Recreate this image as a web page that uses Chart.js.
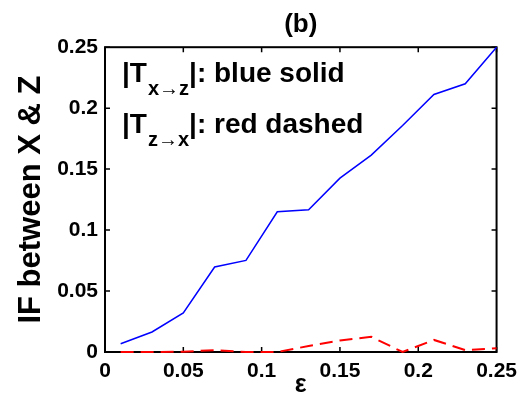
<!DOCTYPE html>
<html>
<head>
<meta charset="utf-8">
<script src="https://cdn.jsdelivr.net/npm/chart.js@4/dist/chart.umd.min.js"></script>
<style>
  body { margin: 0; background: #fff; }
  canvas { display: block; }
</style>
</head>
<body>
<canvas id="myChart" width="524" height="408"></canvas>
<script>
// --- Data ---
const epsilon = [0.01, 0.03, 0.05, 0.07, 0.09, 0.11, 0.13, 0.15, 0.17, 0.19, 0.21, 0.23, 0.25];
const T_xz = [0.0068, 0.0164, 0.032, 0.0697, 0.0751, 0.115, 0.1167, 0.1426, 0.1615, 0.1858, 0.2112, 0.22, 0.25];
const T_zx = [0.0, 0.0, 0.0003, 0.0015, 0.0, 0.0, 0.0049, 0.0095, 0.0125, 0.0, 0.0099, 0.0016, 0.003];
const xTicks = [0, 0.05, 0.1, 0.15, 0.2, 0.25];
const yTicks = [0, 0.05, 0.1, 0.15, 0.2, 0.25];

const FONT = "'Liberation Sans', Arial, sans-serif";

function toPoints(xs, ys) {
  return xs.map((x, i) => ({ x: x, y: ys[i] }));
}

// --- Box with inward ticks (under the lines) and the text annotation ---
const boxPlugin = {
  id: "matlabBox",
  beforeDatasetsDraw(chart) {
    const ctx = chart.ctx;
    const a = chart.chartArea;
    const xs = chart.scales.x;
    const ys = chart.scales.y;
    const tick = 5;
    ctx.save();
    ctx.strokeStyle = "#000";
    ctx.lineWidth = 2;
    ctx.strokeRect(a.left, a.top, a.right - a.left, a.bottom - a.top);
    ctx.lineWidth = 1.5;
    ctx.beginPath();
    xTicks.forEach(v => {
      const px = xs.getPixelForValue(v);
      ctx.moveTo(px, a.bottom); ctx.lineTo(px, a.bottom - tick);
      ctx.moveTo(px, a.top); ctx.lineTo(px, a.top + tick);
    });
    yTicks.forEach(v => {
      const py = ys.getPixelForValue(v);
      ctx.moveTo(a.left, py); ctx.lineTo(a.left + tick, py);
      ctx.moveTo(a.right, py); ctx.lineTo(a.right - tick, py);
    });
    ctx.stroke();
    ctx.restore();
  },
  afterDraw(chart) {
    const ctx = chart.ctx;
    const a = chart.chartArea;
    ctx.save();
    ctx.fillStyle = "#000";
    ctx.textBaseline = "alphabetic";
    ctx.textAlign = "left";
    const big = "bold 28px " + FONT;
    const small = "bold 20px " + FONT;
    function line(x, y, sub, rest) {
      ctx.font = big;
      ctx.fillText("|T", x, y);
      x += ctx.measureText("|T").width + 1;
      ctx.font = small;
      ctx.fillText(sub, x, y + 13);
      x += ctx.measureText(sub).width;
      ctx.font = big;
      ctx.fillText(rest, x, y);
    }
    line(a.left + 17, a.top + 35, "x\u2192z", "|: blue solid");
    line(a.left + 17, a.top + 86, "z\u2192x", "|: red dashed");
    ctx.restore();
  }
};

const ctx = document.getElementById("myChart");
const chart = new Chart(ctx, {
  type: "line",
  data: {
    datasets: [
      {
        label: "|Tx→z|",
        data: toPoints(epsilon, T_xz),
        borderColor: "#0000ff",
        borderWidth: 1.5,
        pointRadius: 0,
        tension: 0,
        clip: false
      },
      {
        label: "|Tz→x|",
        data: toPoints(epsilon, T_zx),
        borderColor: "#ff0000",
        borderWidth: 2,
        borderDash: [13, 7],
        pointRadius: 0,
        tension: 0,
        clip: false
      }
    ]
  },
  options: {
    responsive: false,
    animation: false,
    layout: { padding: { left: 0, right: 25, top: 0, bottom: 0 } },
    plugins: {
      legend: { display: false },
      tooltip: { enabled: false },
      title: {
        display: true,
        text: "(b)",
        fullSize: false,
        color: "#000",
        font: { family: FONT, size: 26, weight: "bold" },
        padding: { top: 9, bottom: 7 }
      }
    },
    scales: {
      x: {
        type: "linear",
        min: 0,
        max: 0.25,
        afterFit: s => { s.height = 56; },
        afterBuildTicks: s => { s.ticks = xTicks.map(v => ({ value: v })); },
        grid: { display: false, drawTicks: false },
        border: { display: false },
        ticks: {
          color: "#000",
          padding: 7,
          maxRotation: 0,
          autoSkip: false,
          font: { family: FONT, size: 21, weight: "bold" },
          callback: v => String(+v.toFixed(2))
        },
        title: {
          display: true,
          text: "\u03b5",
          color: "#000",
          font: { family: FONT, size: 25, weight: "bold" },
          padding: { top: 0, bottom: 8 }
        }
      },
      y: {
        type: "linear",
        min: 0,
        max: 0.25,
        afterFit: s => { s.width = 105; },
        afterBuildTicks: s => { s.ticks = yTicks.map(v => ({ value: v })); },
        grid: { display: false, drawTicks: false },
        border: { display: false },
        ticks: {
          color: "#000",
          padding: 7,
          autoSkip: false,
          font: { family: FONT, size: 21, weight: "bold" },
          callback: v => String(+v.toFixed(2))
        },
        title: {
          display: true,
          text: "IF between X & Z",
          color: "#000",
          font: { family: FONT, size: 31, weight: "bold" },
          padding: { top: 13, bottom: 0 }
        }
      }
    }
  },
  plugins: [boxPlugin]
});
</script>
</body>
</html>
